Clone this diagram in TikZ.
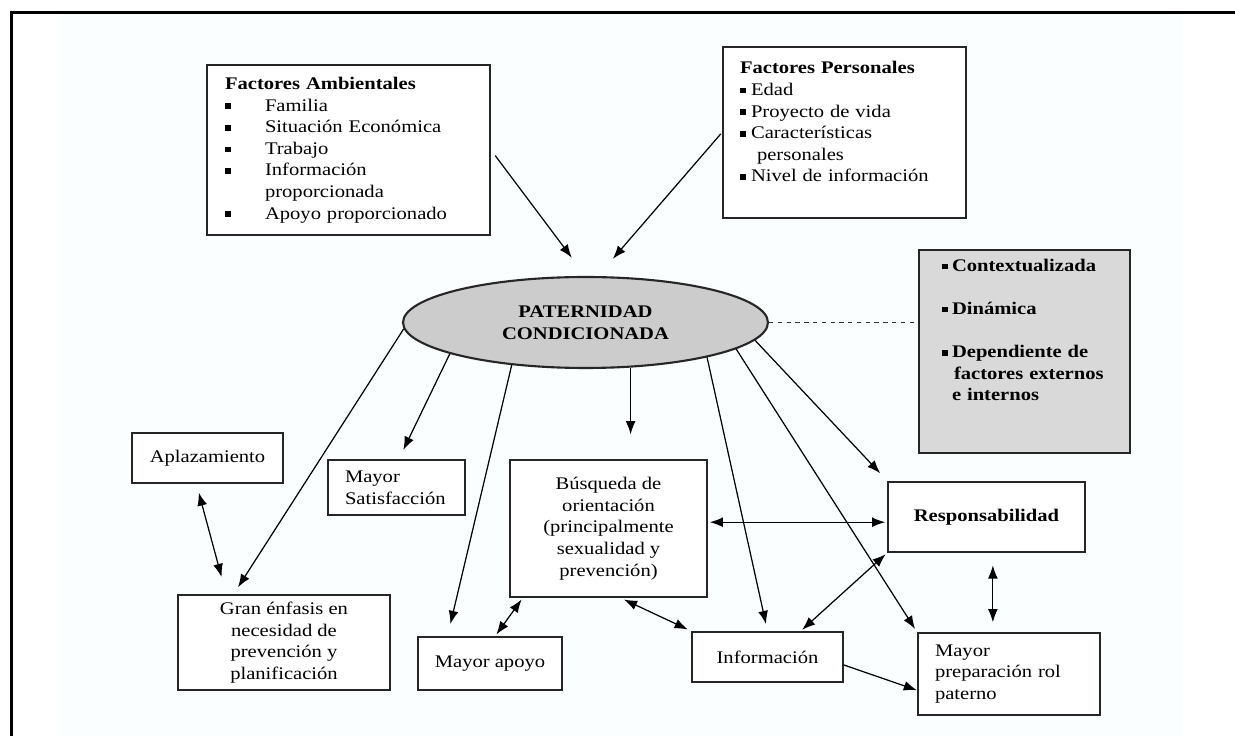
\documentclass[tikz,border=0pt]{standalone}
\usepackage{fontspec}
\setmainfont{Liberation Serif}[FakeStretch=1.16]
\usetikzlibrary{shapes.geometric,arrows.meta}
\definecolor{bgtint}{RGB}{250,254,254}
\newcommand{\sq}{\rule[0.25ex]{3.2pt}{3.2pt}}

\begin{document}
\begin{tikzpicture}[x=0.02cm,y=-0.02cm,
        box/.style={draw=black!85,line width=1.2pt,fill=white,inner sep=0pt,align=center,font=\fontsize{10.1}{12.3}\selectfont},
        arr/.style={draw=black,line width=0.7pt,-{Latex[length=7.5pt,width=5.6pt]}},
        dbl/.style={draw=black,line width=0.7pt,{Latex[length=7.5pt,width=5.6pt]}-{Latex[length=7.5pt,width=5.6pt]}},
        dash line/.style={draw=black!80,line width=0.6pt,dash pattern=on 2.5pt off 2.5pt}]
                \useasboundingbox (0,0) rectangle (1235,736);
                \fill[bgtint] (60,12) rectangle (1182,736);
                \draw[line width=1.6pt] (11.5,736) to (11.5,12.5) to (1235,12.5);
                \node[box,minimum width=5.66cm,minimum height=3.4cm,text width=4.94cm,align=left] (0) at (348.5,150) {\textbf{Factores Ambientales}\\ \makebox[0.8cm][l]{\sq}Familia\\ \makebox[0.8cm][l]{\sq}Situación~Económica\\ \makebox[0.8cm][l]{\sq}Trabajo\\ \makebox[0.8cm][l]{\sq}Información\\ \hspace*{0.8cm}proporcionada\\ \makebox[0.8cm][l]{\sq}Apoyo~proporcionado};
                \node[box,minimum width=4.86cm,minimum height=3.42cm,text width=4.18cm,align=left] (1) at (844.5,132.5) {\textbf{Factores Personales}\\ \makebox[0.22cm][l]{\sq}Edad\\ \makebox[0.22cm][l]{\sq}Proyecto de vida\\ \makebox[0.22cm][l]{\sq}Características\\ \hspace*{0.34cm}personales\\ \makebox[0.22cm][l]{\sq}Nivel~de~información\\ \mbox{}};
                \node[ellipse,draw=black!85,line width=1.2pt,fill=gray!40,minimum width=7.3cm,minimum height=1.82cm,inner sep=0pt,align=center,font=\bfseries\fontsize{10.1}{12.3}\selectfont] (2) at (585.5,322.5) {PATERNIDAD\\ CONDICIONADA};
                \node[box,fill=gray!30,minimum width=4.22cm,minimum height=4.06cm,text width=3.3cm,align=left,font=\bfseries\fontsize{10.1}{12.3}\selectfont] (3) at (1024.5,351.5) {\makebox[0.2cm][l]{\sq}Contextualizada\\ \mbox{}\\ \makebox[0.2cm][l]{\sq}Dinámica\\ \mbox{}\\ \makebox[0.2cm][l]{\sq}Dependiente~de\\ \hspace*{0.24cm}factores~externos\\ \hspace*{0.2cm}e internos\\ \mbox{}\\ \mbox{}};
                \node[box,minimum width=3.02cm,minimum height=1cm] (4) at (207.5,458) {Aplazamiento};
                \node[box,minimum width=2.74cm,minimum height=1.1cm,text width=2.06cm,align=left] (5) at (396.5,487.5) {Mayor\\ Satisfacción};
                \node[box,minimum width=4.24cm,minimum height=1.9cm] (6) at (284,642.5) {Gran énfasis en\\ necesidad de\\ prevención y\\ planificación};
                \node[box,minimum width=3.94cm,minimum height=2.74cm] (7) at (608.5,528.5) {Búsqueda de\\ orientación\\ (principalmente\\ sexualidad y\\ prevención)};
                \node[box,minimum width=2.88cm,minimum height=1.06cm] (8) at (490,663.5) {Mayor apoyo};
                \node[box,minimum width=3.02cm,minimum height=1cm] (9) at (767.5,657) {Información};
                \node[box,minimum width=3.94cm,minimum height=1.4cm,font=\bfseries\fontsize{10.1}{12.3}\selectfont] (10) at (986.5,517) {Responsabilidad};
                \node[box,minimum width=3.64cm,minimum height=1.64cm,text width=2.96cm,align=left] (11) at (1009,674) {Mayor\\ preparación~rol\\ paterno};
                \draw[arr,shorten <=4pt,shorten >=13pt] (0.east) to (2.north);
                \draw[arr,shorten <=1pt,shorten >=13pt] (1.west) to (2.75);
                \draw[dash line] (2.east) to (2.east -| 3.west);
                \draw[arr,shorten >=4.5pt] (2.182) to (6.136);
                \draw[dbl,shorten <=5pt,shorten >=10pt] (4.247) to (6.140);
                \draw[arr,shorten >=5.7pt] (2.193) to (5.85);
                \draw[arr,shorten >=7pt] (2.210) to (8.147);
                \draw[arr,shorten >=14pt] (2.-45) to (2.-45 |- 7.north);
                \draw[arr,shorten >=4pt] (2.-16) to (9.north);
                \draw[arr,shorten >=2pt] (2.-10) to (11.north west);
                \draw[arr,shorten >=6pt] (2.-6) to (10.160);
                \draw[dbl,shorten <=1pt,shorten >=1pt] (10.183 -| 7.east) to (10.183);
                \draw[dbl,shorten <=1pt,shorten >=1pt] (8.79) to (7.219);
                \draw[dbl,shorten <=2pt,shorten >=2pt] (7.-80) to (9.north west);
                \draw[dbl,shorten <=1pt,shorten >=1pt] (10.south west) to (9.38);
                \draw[dbl,shorten <=7pt,shorten >=5.5pt] (10.-80) to (10.-80 |- 11.north);
                \draw[arr] (9.-6) to (11.190);
    \end{tikzpicture}
\end{document}
